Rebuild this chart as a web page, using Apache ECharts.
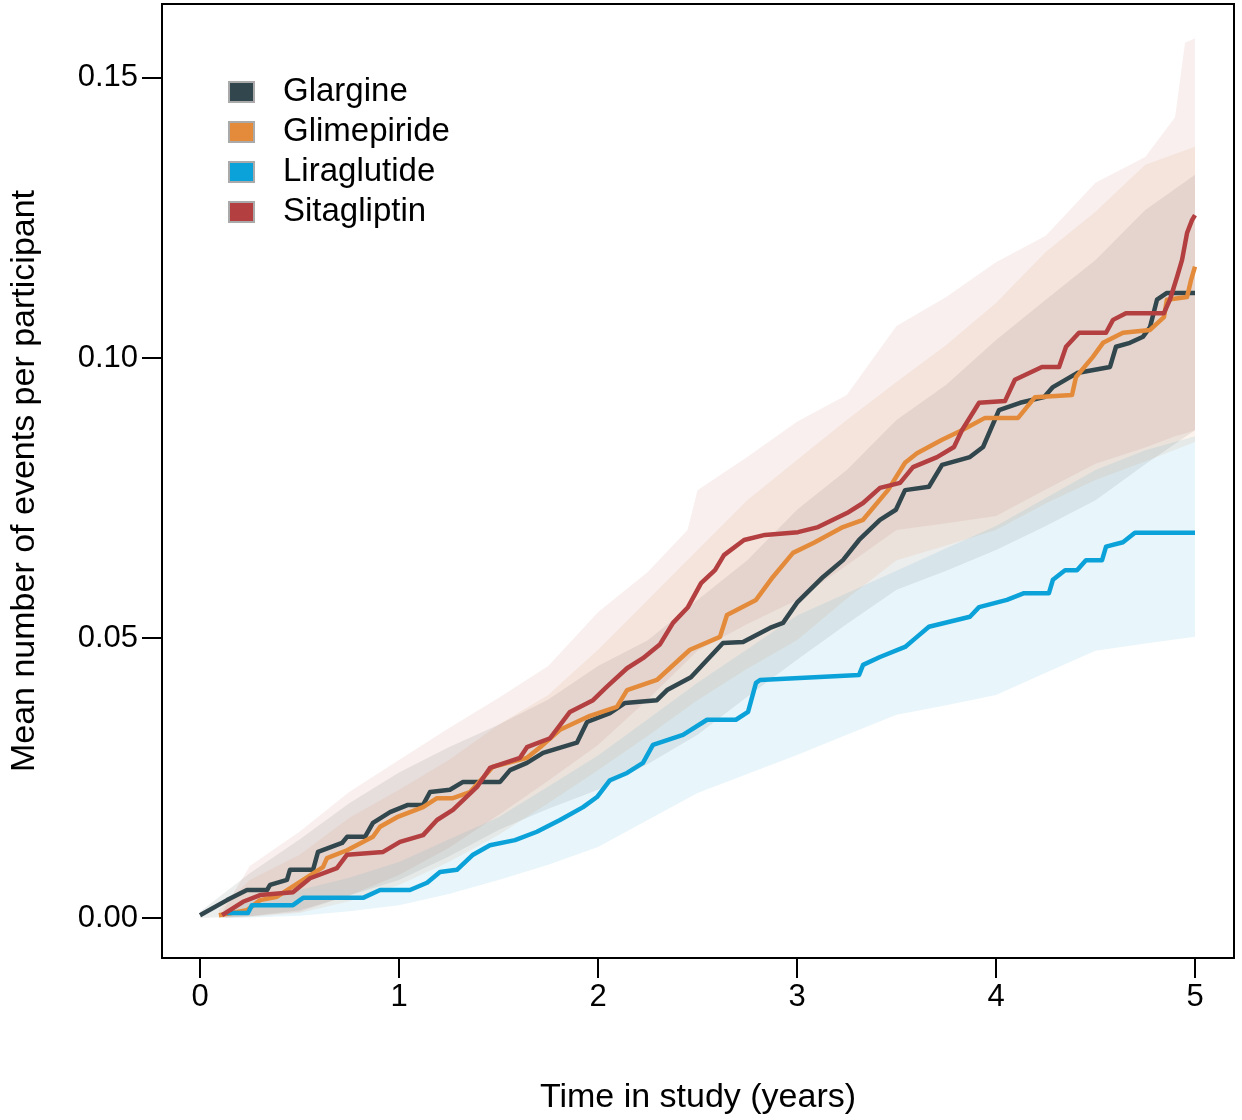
<!DOCTYPE html>
<html>
<head>
<meta charset="utf-8">
<title>Mean number of events per participant</title>
<script src="https://cdn.jsdelivr.net/npm/echarts@6.0.0/dist/echarts.min.js"></script>
<style>
  html, body { margin: 0; padding: 0; background: #fff; }
  #chart { width: 1242px; height: 1120px; }
</style>
</head>
<body>
<div id="chart"></div>
<script>
// ---- data ----
const groups = ['Glargine', 'Glimepiride', 'Liraglutide', 'Sitagliptin'];
const xTicks = [0, 1, 2, 3, 4, 5];
const yTicks = [0, 0.05, 0.10, 0.15];

// mean cumulative events [years, mean]
const glargine = [
    [0, 0.0005], [0.136, 0.0032], [0.236, 0.005], [0.337, 0.005], [0.352, 0.0059], [0.437, 0.0068],
    [0.452, 0.0086], [0.568, 0.0086], [0.593, 0.0118], [0.714, 0.0134], [0.739, 0.0145], [0.829, 0.0145],
    [0.869, 0.017], [0.955, 0.0189], [1.045, 0.0202], [1.121, 0.0202], [1.156, 0.0225], [1.256, 0.0229],
    [1.322, 0.0243], [1.508, 0.0243], [1.558, 0.0264], [1.643, 0.0277], [1.724, 0.0295], [1.894, 0.0313],
    [1.945, 0.035], [2.06, 0.0366], [2.136, 0.0384], [2.296, 0.0389], [2.347, 0.0407], [2.467, 0.043],
    [2.628, 0.0491], [2.729, 0.0493], [2.864, 0.0518], [2.93, 0.0527], [3.0, 0.0563], [3.131, 0.0609],
    [3.231, 0.0639], [3.312, 0.0675], [3.417, 0.0711], [3.497, 0.0729], [3.543, 0.0764], [3.663, 0.077],
    [3.729, 0.0809], [3.869, 0.0823], [3.935, 0.0841], [4.015, 0.0907], [4.121, 0.092], [4.241, 0.093],
    [4.286, 0.0948], [4.407, 0.0973], [4.573, 0.0984], [4.603, 0.102], [4.673, 0.1027], [4.739, 0.1038],
    [4.774, 0.1055], [4.809, 0.1104], [4.859, 0.1116], [5.0, 0.1116]
];
const glimepiride = [
    [0.095, 0.0005], [0.236, 0.0014], [0.302, 0.0032], [0.387, 0.0038], [0.518, 0.0068], [0.618, 0.0091],
    [0.638, 0.0107], [0.739, 0.0121], [0.869, 0.0145], [0.905, 0.0163], [0.99, 0.018], [1.121, 0.0198],
    [1.191, 0.0214], [1.271, 0.0214], [1.357, 0.0225], [1.472, 0.027], [1.643, 0.0286], [1.709, 0.0305],
    [1.809, 0.0336], [1.96, 0.0361], [2.095, 0.0377], [2.146, 0.0407], [2.296, 0.0425], [2.462, 0.0479],
    [2.613, 0.0502], [2.648, 0.0541], [2.794, 0.0568], [2.879, 0.0609], [2.98, 0.0652], [3.085, 0.067],
    [3.231, 0.0698], [3.332, 0.0711], [3.457, 0.0764], [3.543, 0.0813], [3.603, 0.083], [3.729, 0.0854],
    [3.829, 0.0871], [3.945, 0.0893], [4.111, 0.0893], [4.196, 0.093], [4.382, 0.0934], [4.402, 0.0966],
    [4.487, 0.1002], [4.538, 0.1027], [4.638, 0.1045], [4.774, 0.105], [4.844, 0.1073], [4.859, 0.1104],
    [4.96, 0.1109], [4.98, 0.1139], [5.0, 0.1163]
];
const liraglutide = [
    [0.136, 0.0009], [0.241, 0.0009], [0.261, 0.0023], [0.467, 0.0023], [0.518, 0.0036], [0.819, 0.0036],
    [0.905, 0.005], [1.055, 0.005], [1.141, 0.0063], [1.206, 0.0082], [1.291, 0.0086], [1.372, 0.0113],
    [1.457, 0.013], [1.583, 0.0139], [1.693, 0.0154], [1.809, 0.0175], [1.925, 0.0198], [1.995, 0.0216],
    [2.06, 0.0246], [2.146, 0.0259], [2.226, 0.0277], [2.276, 0.0309], [2.427, 0.0327], [2.548, 0.0354],
    [2.693, 0.0354], [2.754, 0.0368], [2.794, 0.042], [2.814, 0.0425], [3.312, 0.0434], [3.332, 0.0452],
    [3.417, 0.0466], [3.543, 0.0484], [3.603, 0.0502], [3.663, 0.052], [3.869, 0.0538], [3.915, 0.0555],
    [4.055, 0.0568], [4.141, 0.058], [4.266, 0.058], [4.286, 0.0604], [4.347, 0.0621], [4.407, 0.0621],
    [4.452, 0.0639], [4.533, 0.0639], [4.553, 0.0663], [4.638, 0.0671], [4.698, 0.0688], [5.0, 0.0688]
];
const sitagliptin = [
    [0.111, 0.0005], [0.216, 0.0029], [0.302, 0.0041], [0.467, 0.0046], [0.553, 0.0071], [0.688, 0.0089],
    [0.739, 0.0113], [0.92, 0.0118], [1.005, 0.0136], [1.121, 0.0148], [1.191, 0.0175], [1.271, 0.0193],
    [1.392, 0.0234], [1.457, 0.0268], [1.608, 0.0286], [1.643, 0.0305], [1.759, 0.0321], [1.859, 0.0368],
    [1.975, 0.0389], [2.045, 0.0413], [2.146, 0.0446], [2.226, 0.0464], [2.312, 0.0489], [2.377, 0.0527],
    [2.452, 0.0555], [2.518, 0.0598], [2.588, 0.0621], [2.633, 0.0648], [2.734, 0.0675], [2.839, 0.0684],
    [3.005, 0.0689], [3.106, 0.0698], [3.251, 0.0723], [3.332, 0.0741], [3.417, 0.0768], [3.518, 0.0777],
    [3.583, 0.0805], [3.704, 0.0823], [3.789, 0.0841], [3.829, 0.0871], [3.915, 0.092], [4.045, 0.0923],
    [4.095, 0.0961], [4.231, 0.0984], [4.317, 0.0984], [4.352, 0.102], [4.417, 0.1045], [4.553, 0.1045],
    [4.588, 0.1068], [4.653, 0.108], [4.844, 0.108], [4.874, 0.1104], [4.91, 0.1145], [4.935, 0.1175],
    [4.96, 0.1223], [4.985, 0.1246], [5.0, 0.1255]
];

// confidence bands: x, lower, upper
const glargineBandX = [0, 0.25, 0.5, 0.75, 1, 1.25, 1.5, 1.75, 2, 2.25, 2.5, 2.75, 3, 3.25, 3.5, 3.75, 4, 4.25, 4.5, 4.75, 5];
const glargineLower = [0, 0.0003, 0.0014, 0.004, 0.0068, 0.011, 0.0157, 0.0195, 0.0229, 0.0275, 0.0327, 0.0395, 0.0461, 0.0525, 0.0586, 0.062, 0.0657, 0.07, 0.0746, 0.081, 0.0871];
const glargineUpper = [0.0011, 0.008, 0.014, 0.0205, 0.026, 0.0305, 0.0345, 0.039, 0.045, 0.0496, 0.0568, 0.0639, 0.0729, 0.08, 0.0889, 0.0952, 0.1032, 0.1104, 0.1175, 0.1264, 0.1327];

const glimepirideBandX = [0.095, 0.25, 0.5, 0.75, 1, 1.25, 1.5, 1.75, 2, 2.25, 2.5, 2.75, 3, 3.25, 3.5, 3.75, 4, 4.25, 4.5, 4.75, 5];
const glimepirideLower = [0, 0.0002, 0.0009, 0.003, 0.0059, 0.01, 0.0148, 0.0205, 0.0264, 0.0325, 0.0389, 0.0445, 0.0496, 0.057, 0.0639, 0.0665, 0.0693, 0.074, 0.0782, 0.0815, 0.085];
const glimepirideUpper = [0.0015, 0.0068, 0.0113, 0.0179, 0.0229, 0.0282, 0.0345, 0.0398, 0.0479, 0.0568, 0.0657, 0.0746, 0.0818, 0.0889, 0.0957, 0.1023, 0.1098, 0.1189, 0.1261, 0.1345, 0.1377];

const liraglutideBandX = [0.13, 0.25, 0.5, 0.75, 1, 1.25, 1.5, 1.75, 2, 2.25, 2.5, 2.75, 3, 3.25, 3.5, 3.75, 4, 4.25, 4.5, 4.75, 5];
const liraglutideLower = [0, 0.0001, 0.0004, 0.0012, 0.0023, 0.0043, 0.0068, 0.0095, 0.0127, 0.0175, 0.0223, 0.0257, 0.0291, 0.0327, 0.0363, 0.038, 0.0398, 0.0438, 0.0477, 0.049, 0.0502];
const liraglutideUpper = [0.0011, 0.003, 0.005, 0.0072, 0.01, 0.014, 0.018, 0.0235, 0.029, 0.0355, 0.042, 0.048, 0.054, 0.058, 0.062, 0.066, 0.07, 0.075, 0.08, 0.0835, 0.086];

const sitagliptinBandX = [0.11, 0.25, 0.5, 0.75, 1, 1.25, 1.5, 1.75, 2, 2.25, 2.45, 2.5, 2.75, 3, 3.25, 3.5, 3.75, 4, 4.25, 4.5, 4.75, 4.9, 4.95, 5];
const sitagliptinLower = [0, 0.0003, 0.0011, 0.004, 0.0077, 0.0125, 0.0184, 0.0245, 0.0309, 0.039, 0.046, 0.0477, 0.0525, 0.0568, 0.063, 0.0693, 0.0705, 0.0718, 0.0765, 0.0811, 0.084, 0.086, 0.0865, 0.0871];
const sitagliptinUpper = [0.001, 0.0093, 0.0154, 0.0225, 0.0282, 0.0339, 0.0393, 0.045, 0.0546, 0.0618, 0.0693, 0.0764, 0.0823, 0.0886, 0.0934, 0.1057, 0.1109, 0.1171, 0.1218, 0.1313, 0.1359, 0.143, 0.1563, 0.1571];

const lineColors = ['#31474d', '#e38b3a', '#0ba2d9', '#b33f40'];
const bandColors = ['rgba(70,80,80,0.10)', 'rgba(225,140,70,0.10)', 'rgba(30,160,210,0.10)', 'rgba(180,80,70,0.09)'];

const FONT = '"Liberation Sans", Arial, sans-serif';

// one polygon per band: upper edge left->right, lower edge right->left
function bandSeries(name, xs, lower, upper, color) {
    const rows = xs.map((x, i) => [x, lower[i], upper[i]]);
    return {
        name: name + ' band',
        type: 'custom',
        data: rows,
        encode: { x: 0, y: [1, 2] },
        silent: true,
        z: 1,
        renderItem: (params, api) => {
            if (params.dataIndex !== 0) return null;
            const top = rows.map(r => api.coord([r[0], r[2]]));
            const bottom = rows.map(r => api.coord([r[0], r[1]])).reverse();
            return {
                type: 'polygon',
                shape: { points: top.concat(bottom) },
                style: { fill: color }
            };
        }
    };
}

function lineSeries(name, data, color) {
    return {
        name: name,
        type: 'line',
        data: data,
        showSymbol: false,
        symbol: 'none',
        itemStyle: { color: color },
        lineStyle: { color: color, width: 4.5, join: 'round' },
        z: 3
    };
}

const chart = echarts.init(document.getElementById('chart'));

const option = {
    animation: false,
    backgroundColor: '#fff',
    grid: {
        left: 162,
        top: 4,
        right: 8,
        bottom: 162,
        show: true,
        borderColor: '#000',
        borderWidth: 2,
        backgroundColor: 'transparent'
    },
    legend: {
        data: groups,
        orient: 'vertical',
        left: 228,
        top: 75,
        padding: 0,
        icon: 'rect',
        itemWidth: 25,
        itemHeight: 20,
        itemGap: 6,
        itemStyle: { borderColor: '#aaaaaa', borderWidth: 2 },
        textStyle: {
            fontFamily: FONT,
            fontSize: 33,
            lineHeight: 34,
            color: '#000',
            padding: [0, 0, 0, 24]
        },
        selectedMode: false
    },
    xAxis: {
        type: 'value',
        min: -0.191,
        max: 5.196,
        name: 'Time in study (years)',
        nameLocation: 'middle',
        nameGap: 123,
        nameTextStyle: { fontFamily: FONT, fontSize: 34, color: '#000' },
        axisLine: { show: false, onZero: false },
        axisTick: { show: true, length: 20, lineStyle: { color: '#000', width: 2 }, customValues: xTicks },
        axisLabel: {
            fontFamily: FONT, fontSize: 31, color: '#000', margin: 24,
            customValues: xTicks,
            formatter: v => String(v)
        },
        splitLine: { show: false }
    },
    yAxis: {
        type: 'value',
        min: -0.00714,
        max: 0.1632,
        name: 'Mean number of events per participant',
        nameLocation: 'middle',
        nameGap: 120,
        nameTextStyle: { fontFamily: FONT, fontSize: 34, color: '#000' },
        axisLine: { show: false, onZero: false },
        axisTick: { show: true, length: 20, lineStyle: { color: '#000', width: 2 }, customValues: yTicks },
        axisLabel: {
            fontFamily: FONT, fontSize: 31, color: '#000', margin: 24,
            customValues: yTicks,
            formatter: v => v.toFixed(2)
        },
        splitLine: { show: false }
    },
    series: [
        bandSeries('Glargine', glargineBandX, glargineLower, glargineUpper, bandColors[0]),
        bandSeries('Glimepiride', glimepirideBandX, glimepirideLower, glimepirideUpper, bandColors[1]),
        bandSeries('Liraglutide', liraglutideBandX, liraglutideLower, liraglutideUpper, bandColors[2]),
        bandSeries('Sitagliptin', sitagliptinBandX, sitagliptinLower, sitagliptinUpper, bandColors[3]),
        lineSeries('Glargine', glargine, lineColors[0]),
        lineSeries('Glimepiride', glimepiride, lineColors[1]),
        lineSeries('Liraglutide', liraglutide, lineColors[2]),
        lineSeries('Sitagliptin', sitagliptin, lineColors[3])
    ]
};

chart.setOption(option);
</script>
</body>
</html>
